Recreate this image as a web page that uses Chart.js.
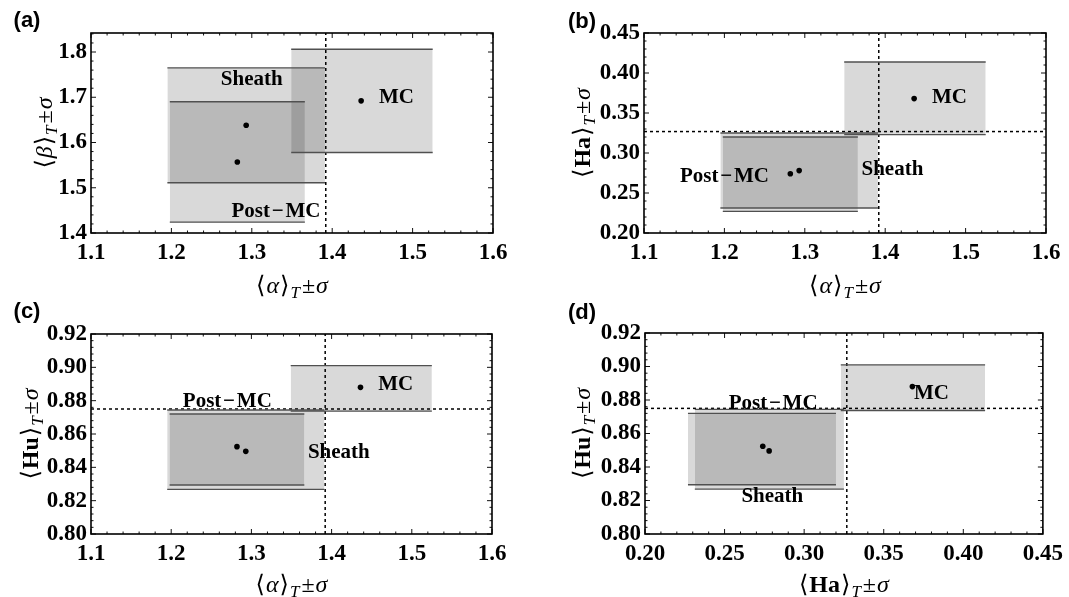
<!DOCTYPE html>
<html>
<head>
<meta charset="utf-8">
<script src="https://cdn.jsdelivr.net/npm/chart.js@4.4.1/dist/chart.umd.min.js"></script>
<style>
  html, body { margin: 0; padding: 0; background: #fff; }
  #wrap { position: relative; width: 1069px; height: 597px; overflow: hidden; }
  canvas { position: absolute; }
</style>
</head>
<body>
<div id="wrap">
  <canvas id="chartA" width="534" height="298" style="left:0;top:0"></canvas>
  <canvas id="chartB" width="535" height="298" style="left:534px;top:0"></canvas>
  <canvas id="chartC" width="534" height="299" style="left:0;top:298px"></canvas>
  <canvas id="chartD" width="535" height="299" style="left:534px;top:298px"></canvas>
</div>
<script>
// regiones: Sheath, Post-MC, MC
const regions = ['Sheath', 'Post\u200A\u2212\u200AMC', 'MC'];

// promedios <.>_T
const alphaMean = [1.293, 1.282, 1.436];
const betaMean = [1.638, 1.557, 1.692];
const haMean = [0.278, 0.274, 0.368];
const huMean = [0.8496, 0.8524, 0.888];

// limites de la banda +-sigma
const alphaLow = [1.195, 1.198, 1.349];
const alphaHigh = [1.391, 1.366, 1.525];
const betaLow = [1.511, 1.424, 1.578];
const betaHigh = [1.765, 1.690, 1.806];
const haLow = [0.2313, 0.227, 0.323];
const haHigh = [0.325, 0.320, 0.4137];
const huLow = [0.8268, 0.8294, 0.8737];
const huHigh = [0.8744, 0.872, 0.901];

// umbrales (lineas punteadas)
const alphaCut = 1.392;
const haCut = 0.3268;
const huCut = 0.875;

// etiquetas de los ejes
const alphaTicks = ['1.1', '1.2', '1.3', '1.4', '1.5', '1.6'];
const betaTicks = ['1.4', '1.5', '1.6', '1.7', '1.8'];
const haTicks = ['0.20', '0.25', '0.30', '0.35', '0.40', '0.45'];
const huTicks = ['0.80', '0.82', '0.84', '0.86', '0.88', '0.90', '0.92'];

// textos dentro de cada panel: [texto, x, y]
const notesA = [[regions[0], 1.300, 1.740], [regions[2], 1.480, 1.699], [regions[1], 1.330, 1.447]];
const notesB = [[regions[2], 1.480, 0.369], [regions[1], 1.200, 0.271], [regions[0], 1.409, 0.279]];
const notesC = [[regions[2], 1.480, 0.8898], [regions[1], 1.270, 0.8796], [regions[0], 1.409, 0.849]];
const notesD = [[regions[2], 0.380, 0.884], [regions[1], 0.2805, 0.8776], [regions[0], 0.280, 0.8224]];

const SERIF = '"Liberation Serif", "DejaVu Serif", "Times New Roman", serif';
const R = '24px ' + SERIF;
const I = 'italic 24px ' + SERIF;
const B = 'bold 24px ' + SERIF;
const SUB = 'italic 17px ' + SERIF;

Chart.defaults.font.family = SERIF;
Chart.defaults.color = '#000';

function axisTitle(name, font) {
  return [
    { t: '\u27E8', f: R, g: 1 },
    { t: name, f: font, g: 1 },
    { t: '\u27E9', f: R, g: 1 },
    { t: 'T', f: SUB, dy: 5, g: 2 },
    { t: '\u00B1', f: R, g: 1 },
    { t: '\u03C3', f: I, g: 0 }
  ];
}

function drawRich(ctx, parts, cx, cy, rotate) {
  ctx.save();
  ctx.translate(cx, cy);
  if (rotate) ctx.rotate(-Math.PI / 2);
  let w = 0;
  parts.forEach(p => { ctx.font = p.f; p.w = ctx.measureText(p.t).width; w += p.w + p.g; });
  let pos = -w / 2;
  ctx.textAlign = 'left';
  ctx.textBaseline = 'alphabetic';
  ctx.fillStyle = '#000';
  parts.forEach(p => { ctx.font = p.f; ctx.fillText(p.t, pos, p.dy || 0); pos += p.w + p.g; });
  ctx.restore();
}

// marco con marcas hacia dentro en los cuatro lados
const framePlugin = {
  id: 'frame',
  afterDatasetsDraw(chart) {
    const { ctx, chartArea: a, scales: { x, y } } = chart;
    ctx.save();
    ctx.strokeStyle = '#111';
    ctx.lineWidth = 1;
    const marks = (scale) => {
      const major = scale.ticks.map(t => t.value);
      const step = (major[1] - major[0]) / 5;
      const out = [];
      for (let k = 0; ; k++) {
        const v = major[0] + k * step;
        if (v > scale.max + 1e-9) break;
        out.push({ v, big: k % 5 === 0 });
      }
      return out;
    };
    ctx.beginPath();
    marks(x).forEach(m => {
      const px = x.getPixelForValue(m.v);
      const len = m.big ? 5 : 2.5;
      ctx.moveTo(px, a.bottom); ctx.lineTo(px, a.bottom - len);
      ctx.moveTo(px, a.top); ctx.lineTo(px, a.top + len);
    });
    marks(y).forEach(m => {
      const py = y.getPixelForValue(m.v);
      const len = m.big ? 5 : 2.5;
      ctx.moveTo(a.left, py); ctx.lineTo(a.left + len, py);
      ctx.moveTo(a.right, py); ctx.lineTo(a.right - len, py);
    });
    ctx.stroke();
    ctx.lineWidth = 1.6;
    ctx.strokeStyle = '#000';
    ctx.strokeRect(a.left, a.top, a.right - a.left, a.bottom - a.top);
    ctx.restore();
  }
};

// textos: regiones, titulos de ejes y letra del panel
const decoPlugin = {
  id: 'deco',
  afterDraw(chart, args, opts) {
    const { ctx, chartArea: a, scales: { x, y } } = chart;
    ctx.save();
    ctx.fillStyle = '#000';
    ctx.font = 'bold 21px ' + SERIF;
    ctx.textAlign = 'center';
    ctx.textBaseline = 'middle';
    opts.notes.forEach(([txt, vx, vy]) => {
      ctx.fillText(txt, x.getPixelForValue(vx), y.getPixelForValue(vy));
    });
    ctx.font = 'bold 22px "Liberation Sans", Arial, sans-serif';
    ctx.fillText(opts.letter, opts.letterPos[0], opts.letterPos[1]);
    ctx.restore();
    drawRich(ctx, opts.xTitle, (a.left + a.right) / 2, opts.xTitleBase, false);
    drawRich(ctx, opts.yTitle, opts.yTitleBase, (a.top + a.bottom) / 2, true);
  }
};

function makePanel(id, p) {
  const canvas = document.getElementById(id);
  const W = canvas.width, H = canvas.height;
  const datasets = [];

  // bandas +-sigma: linea superior e inferior con relleno entre ambas
  for (let i = 0; i < regions.length; i++) {
    datasets.push({
      data: [{ x: p.xLow[i], y: p.yHigh[i] }, { x: p.xHigh[i], y: p.yHigh[i] }],
      borderColor: '#505050', borderWidth: 1.4, pointRadius: 0, fill: false
    });
    datasets.push({
      data: [{ x: p.xLow[i], y: p.yLow[i] }, { x: p.xHigh[i], y: p.yLow[i] }],
      borderColor: '#505050', borderWidth: 1.4, pointRadius: 0,
      fill: '-1', backgroundColor: 'rgba(0,0,0,0.15)'
    });
  }

  const dashed = { borderColor: '#000', borderWidth: 1.5, borderDash: [3, 3], pointRadius: 0, fill: false };
  if (p.xCut !== undefined) {
    datasets.push(Object.assign({ data: [{ x: p.xCut, y: p.yRange[0] }, { x: p.xCut, y: p.yRange[1] }] }, dashed));
  }
  if (p.yCut !== undefined) {
    datasets.push(Object.assign({ data: [{ x: p.xRange[0], y: p.yCut }, { x: p.xRange[1], y: p.yCut }] }, dashed));
  }

  // promedios
  datasets.push({
    data: p.xMean.map((v, i) => ({ x: v, y: p.yMean[i] })),
    showLine: false, pointRadius: 2.8, pointBackgroundColor: '#000', pointBorderWidth: 0
  });

  const tickFont = { family: SERIF, size: 23, weight: 'bold' };

  return new Chart(canvas, {
    type: 'line',
    data: { datasets },
    options: {
      responsive: false,
      animation: false,
      events: [],
      layout: { padding: { left: 0, top: p.plot[1], right: W - p.plot[2], bottom: 0 } },
      plugins: {
        legend: { display: false },
        tooltip: { enabled: false },
        filler: { drawTime: 'beforeDatasetsDraw' },
        deco: {
          notes: p.notes, letter: p.letter, letterPos: p.letterPos,
          xTitle: p.xTitle, yTitle: p.yTitle,
          xTitleBase: p.xTitleBase, yTitleBase: p.yTitleBase
        }
      },
      scales: {
        x: {
          type: 'linear', min: p.xRange[0], max: p.xRange[1],
          grid: { display: false, drawTicks: false }, border: { display: false },
          afterBuildTicks: s => { s.ticks = p.xTicks.map(t => ({ value: Number(t) })); },
          afterFit: s => { s.height = H - p.plot[3]; },
          ticks: {
            autoSkip: false, maxRotation: 0, padding: 6, color: '#000', font: tickFont,
            callback: (v, i) => p.xTicks[i]
          }
        },
        y: {
          type: 'linear', min: p.yRange[0], max: p.yRange[1],
          grid: { display: false, drawTicks: false }, border: { display: false },
          afterBuildTicks: s => { s.ticks = p.yTicks.map(t => ({ value: Number(t) })); },
          afterFit: s => { s.width = p.plot[0]; },
          ticks: {
            autoSkip: false, padding: 4, color: '#000', font: tickFont,
            callback: (v, i) => p.yTicks[i]
          }
        }
      }
    },
    plugins: [framePlugin, decoPlugin]
  });
}

makePanel('chartA', {
  xMean: alphaMean, yMean: betaMean, xLow: alphaLow, xHigh: alphaHigh, yLow: betaLow, yHigh: betaHigh,
  xRange: [1.1, 1.6], yRange: [1.4, 1.842], xTicks: alphaTicks, yTicks: betaTicks,
  xCut: alphaCut, notes: notesA, letter: '(a)', letterPos: [27, 21],
  xTitle: axisTitle('\u03B1', I), yTitle: axisTitle('\u03B2', I), xTitleBase: 293, yTitleBase: 52,
  plot: [91, 33, 493, 233]
});

makePanel('chartB', {
  xMean: alphaMean, yMean: haMean, xLow: alphaLow, xHigh: alphaHigh, yLow: haLow, yHigh: haHigh,
  xRange: [1.1, 1.6], yRange: [0.20, 0.45], xTicks: alphaTicks, yTicks: haTicks,
  xCut: alphaCut, yCut: haCut, notes: notesB, letter: '(b)', letterPos: [48, 22],
  xTitle: axisTitle('\u03B1', I), yTitle: axisTitle('Ha', B), xTitleBase: 293, yTitleBase: 56,
  plot: [110, 33, 512, 233]
});

makePanel('chartC', {
  xMean: alphaMean, yMean: huMean, xLow: alphaLow, xHigh: alphaHigh, yLow: huLow, yHigh: huHigh,
  xRange: [1.1, 1.6], yRange: [0.80, 0.92], xTicks: alphaTicks, yTicks: huTicks,
  xCut: alphaCut, yCut: huCut, notes: notesC, letter: '(c)', letterPos: [27, 14],
  xTitle: axisTitle('\u03B1', I), yTitle: axisTitle('Hu', B), xTitleBase: 294, yTitleBase: 38,
  plot: [91, 36, 492, 236]
});

makePanel('chartD', {
  xMean: haMean, yMean: huMean, xLow: haLow, xHigh: haHigh, yLow: huLow, yHigh: huHigh,
  xRange: [0.20, 0.45], yRange: [0.80, 0.92], xTicks: haTicks, yTicks: huTicks,
  xCut: haCut, yCut: huCut, notes: notesD, letter: '(d)', letterPos: [48, 15],
  xTitle: axisTitle('Ha', B), yTitle: axisTitle('Hu', B), xTitleBase: 294, yTitleBase: 56,
  plot: [111, 35, 512, 236]
});
</script>
</body>
</html>
